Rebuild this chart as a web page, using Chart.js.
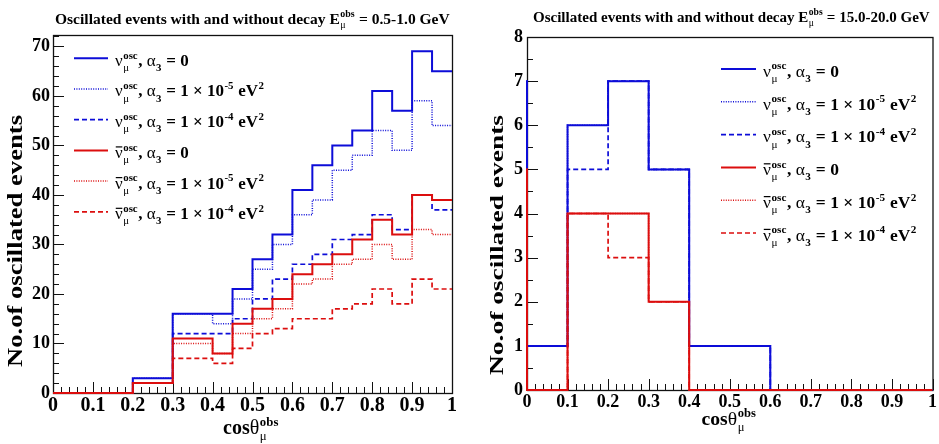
<!DOCTYPE html>
<html>
<head>
<meta charset="utf-8">
<script src="https://cdn.jsdelivr.net/npm/chart.js@4.4.1/dist/chart.umd.min.js"></script>
<style>
  html, body { margin: 0; padding: 0; background: #fff; }
  #wrap { position: relative; width: 939px; height: 444px; overflow: hidden; }
  .panel { position: absolute; top: 0; width: 470px; height: 444px; }
  #left { left: 0; }
  #right { left: 469px; }
</style>
</head>
<body>
<div id="wrap">
  <div class="panel" id="left"><canvas id="lowE" width="470" height="444"></canvas></div>
  <div class="panel" id="right"><canvas id="highE" width="470" height="444"></canvas></div>
</div>
<script>
// E_mu = 0.5-1.0 GeV : cos(theta) bin edges and counts per bin
const lowEdges  = [0, 0.2, 0.3, 0.4, 0.45, 0.5, 0.55, 0.6, 0.65, 0.7, 0.75, 0.8, 0.85, 0.9, 0.95, 1.0];
const lowNuA0   = [0, 3, 16, 16, 21, 27, 32, 41, 46, 50, 53, 61, 57, 69, 65];
const lowNuA5   = [0, 3, 16, 14, 19, 25, 30, 36, 39, 45, 48, 53, 49, 59, 54];
const lowNuA4   = [0, 2, 12, 12, 15, 19, 23, 26, 28, 31, 32, 36, 33, 40, 37];
const lowNubA0  = [0, 2, 11,  8, 14, 17, 19, 24, 26, 28, 31, 35, 32, 40, 39];
const lowNubA5  = [0, 2, 10,  8, 12, 15, 17, 22, 23, 26, 27, 30, 27, 33, 32];
const lowNubA4  = [0, 2,  7,  6,  9, 12, 13, 15, 15, 17, 18, 21, 18, 23, 21];

// E_mu = 15.0-20.0 GeV : first bin (-0.1..0) sits just left of the drawn range
const highEdges = [-0.1, 0, 0.1, 0.2, 0.3, 0.4, 0.5, 0.6, 0.7, 0.8, 0.9, 1.0];
const highNuA0  = [7, 1, 6, 7, 5, 1, 1, 0, 0, 0, 0];
const highNuA5  = [7, 1, 6, 7, 5, 1, 1, 0, 0, 0, 0];
const highNuA4  = [7, 1, 5, 7, 5, 1, 1, 0, 0, 0, 0];
const highNubA0 = [5, 0, 4, 4, 2, 0, 0, 0, 0, 0, 0];
const highNubA5 = [5, 0, 4, 4, 2, 0, 0, 0, 0, 0, 0];
const highNubA4 = [5, 0, 4, 3, 2, 0, 0, 0, 0, 0, 0];

// legend: antineutrino flag and alpha_3 exponent ('0' means alpha_3 = 0)
const seriesBar   = [false, false, false, true, true, true];
const seriesAlpha = ['0', '-5', '-4', '0', '-5', '-4'];

const SERIF = '"Liberation Serif", "Times New Roman", serif';
const BLUE = '#0d0dd8';
const RED = '#dc0e0e';
const lineStyles = [
  { color: BLUE, width: 2,   dash: [] },
  { color: BLUE, width: 1.5, dash: [1, 1.4] },
  { color: BLUE, width: 1.7, dash: [5, 3] },
  { color: RED,  width: 2,   dash: [] },
  { color: RED,  width: 1.5, dash: [1, 1.4] },
  { color: RED,  width: 1.7, dash: [5, 3] }
];

function histPoints(edges, counts) {
  const pts = counts.map((c, i) => ({ x: edges[i], y: c }));
  pts.push({ x: edges[edges.length - 1], y: counts[counts.length - 1] });
  return pts;
}

// text with greek letters, superscripts and subscripts (ROOT latex look)
function drawRich(ctx, parts, x, y, size, draw) {
  const small = size * 0.64;
  const fontFor = (txt, s) => (/[\u0370-\u03ff]/.test(txt) ? '' : 'bold ') + s + 'px ' + SERIF;
  let cx = x;
  for (const p of parts) {
    if (typeof p === 'string' || p.greek) {
      const txt = typeof p === 'string' ? p : p.greek;
      ctx.font = fontFor(txt, size);
      const w = ctx.measureText(txt).width;
      if (draw) {
        ctx.fillText(txt, cx, y);
        if (p.bar) ctx.fillRect(cx + w * 0.1, y - size * 0.68, w * 0.85, Math.max(1, size * 0.07));
      }
      cx += w;
    } else {
      let w = 0;
      const rows = [[p.sup, -size * 0.42], [p.sub, size * 0.3]];
      for (const [txt, dy] of rows) {
        if (!txt) continue;
        ctx.font = fontFor(txt, small);
        if (draw) ctx.fillText(txt, cx + size * 0.03, y + dy);
        w = Math.max(w, ctx.measureText(txt).width);
      }
      cx += w + size * 0.06;
    }
  }
  return cx - x;
}

// draws parts centred on cx at baseline y; either resized or stretched to a width
function drawFitted(ctx, parts, cx, y, size, width, rotate, stretch) {
  const w0 = drawRich(ctx, parts, 0, 0, size, false);
  const s = stretch ? size : size * width / w0;
  const k = stretch ? width / w0 : 1;
  ctx.save();
  ctx.fillStyle = '#000';
  ctx.textBaseline = 'alphabetic';
  ctx.textAlign = 'left';
  if (rotate) {
    ctx.translate(cx, y);
    ctx.rotate(-Math.PI / 2);
    ctx.scale(k, 1);
    drawRich(ctx, parts, -w0 * (stretch ? 1 : width / w0) / 2, s * 0.33, s, true);
  } else {
    ctx.translate(cx, y);
    ctx.scale(k, 1);
    drawRich(ctx, parts, -(stretch ? w0 : width) / 2, 0, s, true);
  }
  ctx.restore();
}

function legendParts(bar, alpha) {
  const head = [{ greek: 'ν', bar: bar }, { sup: 'osc', sub: 'μ' }, ', ', { greek: 'α' }, { sub: '3' }];
  if (alpha === '0') return head.concat([' = 0']);
  return head.concat([' = 1 × 10', { sup: alpha }, ' eV', { sup: '2' }]);
}

function makeOverlay(cfg) {
  return {
    id: 'rootFrame',
    beforeDatasetsDraw(chart) {
      const { ctx, chartArea: a, scales: { x, y } } = chart;
      ctx.save();
      ctx.strokeStyle = '#111';
      ctx.lineWidth = 1.3;
      ctx.strokeRect(a.left + 0.5, a.top + 0.5, a.right - a.left, a.bottom - a.top);
      ctx.lineWidth = 1;
      ctx.beginPath();
      const nx = Math.round((x.max - x.min) / cfg.xMinor);
      for (let i = 0; i <= nx; i++) {
        const v = x.min + i * cfg.xMinor;
        const major = Math.abs(v / cfg.xMajor - Math.round(v / cfg.xMajor)) < 1e-6;
        const px = Math.round(x.getPixelForValue(v)) + 0.5;
        ctx.moveTo(px, a.bottom);
        ctx.lineTo(px, a.bottom - (major ? 11 : 6));
      }
      const ny = Math.floor((y.max - y.min) / cfg.yMinor + 1e-6);
      for (let i = 0; i <= ny; i++) {
        const v = y.min + i * cfg.yMinor;
        const major = Math.abs(v / cfg.yMajor - Math.round(v / cfg.yMajor)) < 1e-6;
        const py = Math.round(y.getPixelForValue(v)) + 0.5;
        ctx.moveTo(a.left, py);
        ctx.lineTo(a.left + (major ? 11 : 6), py);
      }
      ctx.stroke();
      ctx.restore();
    },
    afterDraw(chart) {
      const ctx = chart.ctx;
      drawFitted(ctx, cfg.title, cfg.titleX, cfg.titleY, 16, cfg.titleW, false, false);
      drawFitted(ctx, ['No.of oscillated events'], cfg.yTitleX, cfg.yTitleY, cfg.yTitleSize, cfg.yTitleW, true, true);
      drawFitted(ctx, ['cos', { greek: 'θ' }, { sup: 'obs', sub: 'μ' }], cfg.xTitleX, cfg.xTitleY, 20, cfg.xTitleW, false, false);

      // legend
      ctx.save();
      ctx.fillStyle = '#000';
      ctx.textBaseline = 'alphabetic';
      lineStyles.forEach((st, i) => {
        const ly = cfg.legY0 + i * cfg.legDy;
        ctx.strokeStyle = st.color;
        ctx.lineWidth = st.width;
        ctx.setLineDash(st.dash);
        ctx.beginPath();
        ctx.moveTo(cfg.legX, ly);
        ctx.lineTo(cfg.legX + cfg.legLen, ly);
        ctx.stroke();
        ctx.setLineDash([]);
        drawRich(ctx, legendParts(seriesBar[i], seriesAlpha[i]), cfg.legTextX, ly + cfg.legSize * 0.44, cfg.legSize, true);
      });
      ctx.restore();
    }
  };
}

function makeChart(id, edges, series, cfg) {
  const datasets = series.map((vals, i) => ({
    data: histPoints(edges, vals),
    borderColor: lineStyles[i].color,
    borderWidth: lineStyles[i].width,
    borderDash: lineStyles[i].dash,
    stepped: 'before',
    pointRadius: 0,
    fill: false,
    order: series.length - i,
    clip: { left: 1, top: 0, right: 0, bottom: 2 }
  }));
  const font = (size) => ({ family: SERIF, size: size, weight: 'bold' });
  return new Chart(document.getElementById(id), {
    type: 'line',
    data: { datasets: datasets },
    options: {
      responsive: false,
      animation: false,
      layout: { padding: { left: 0, right: cfg.padR, top: cfg.padT, bottom: 0 } },
      plugins: { legend: { display: false }, tooltip: { enabled: false } },
      scales: {
        x: {
          type: 'linear', min: 0, max: 1,
          afterFit: (s) => { s.height = cfg.xAxisH; },
          grid: { display: false, drawTicks: false },
          border: { display: false },
          ticks: {
            stepSize: cfg.xMajor, includeBounds: false, autoSkip: false, maxRotation: 0,
            padding: cfg.xPad, color: '#000', font: font(cfg.xTickSize),
            callback: (v) => String(Math.round(v * 10) / 10)
          }
        },
        y: {
          type: 'linear', min: 0, max: cfg.yMax,
          afterFit: (s) => { s.width = cfg.yAxisW; },
          grid: { display: false, drawTicks: false },
          border: { display: false },
          ticks: {
            stepSize: cfg.yMajor, includeBounds: false, autoSkip: false,
            padding: cfg.yPad, color: '#000', font: font(cfg.yTickSize)
          }
        }
      }
    },
    plugins: [makeOverlay(cfg)]
  });
}

makeChart('lowE', lowEdges, [lowNuA0, lowNuA5, lowNuA4, lowNubA0, lowNubA5, lowNubA4], {
  yMax: 72.3, yMajor: 10, yMinor: 2, xMajor: 0.1, xMinor: 0.02,
  yAxisW: 53, xAxisH: 51, padR: 18, padT: 35, xPad: 1, yPad: 3, xTickSize: 20, yTickSize: 18,
  title: ['Oscillated events with and without decay E', { sup: 'obs', sub: 'μ' }, ' = 0.5-1.0 GeV'],
  titleX: 252.5, titleY: 23.5, titleW: 395,
  yTitleX: 15.5, yTitleY: 241, yTitleW: 252, yTitleSize: 21,
  xTitleX: 251, xTitleY: 434, xTitleW: 56,
  legX: 74, legLen: 34, legTextX: 115, legY0: 58.3, legDy: 30.7, legSize: 17
});

makeChart('highE', highEdges, [highNuA0, highNuA5, highNuA4, highNubA0, highNubA5, highNubA4], {
  yMax: 8, yMajor: 1, yMinor: 0.5, xMajor: 0.1, xMinor: 0.02,
  yAxisW: 58, xAxisH: 54, padR: 6, padT: 37, xPad: 2, yPad: 4, xTickSize: 18, yTickSize: 18,
  title: ['Oscillated events with and without decay E', { sup: 'obs', sub: 'μ' }, ' = 15.0-20.0 GeV'],
  titleX: 262.5, titleY: 21.5, titleW: 397,
  yTitleX: 28.5, yTitleY: 245, yTitleW: 260, yTitleSize: 18,
  xTitleX: 260, xTitleY: 425, xTitleW: 55,
  legX: 252, legLen: 35, legTextX: 294, legY0: 69, legDy: 32.8, legSize: 17.5
});
</script>
</body>
</html>
